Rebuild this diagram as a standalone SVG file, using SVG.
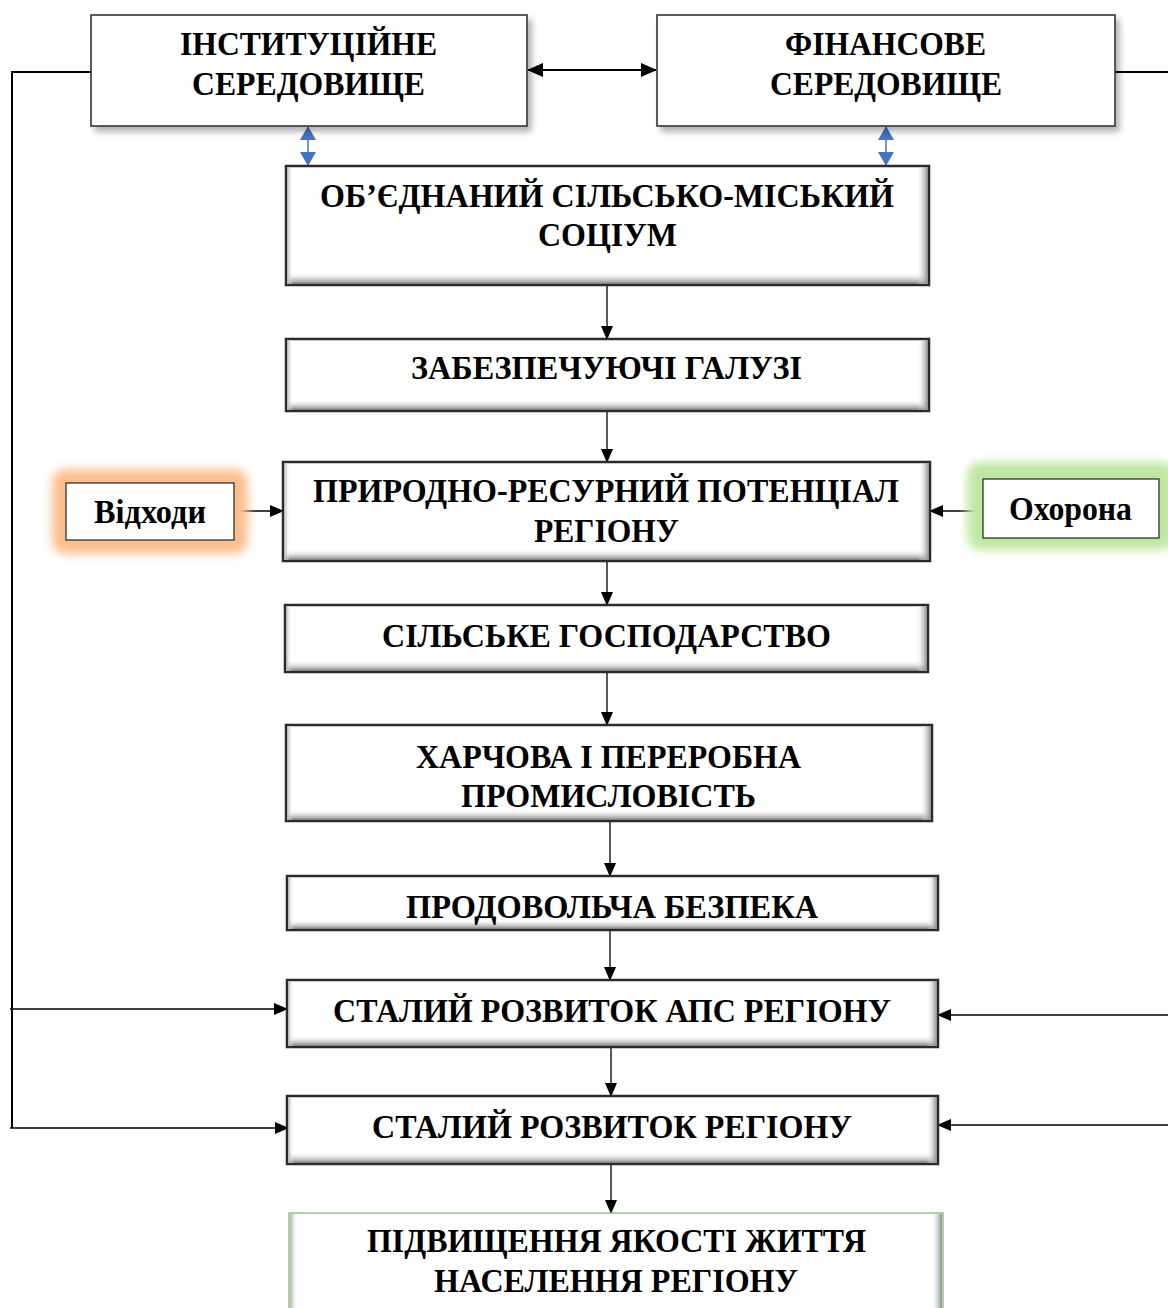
<svg xmlns="http://www.w3.org/2000/svg" width="1168" height="1308" viewBox="0 0 1168 1308">
<style>
  .t { font-family: "Liberation Serif", "Times New Roman", serif; font-weight: bold; font-size: 34px; fill: #000; text-anchor: middle; }
  .box { fill: #fff; stroke: #2b2b2b; stroke-width: 2.5; }
  .topbox { fill: #fff; stroke: #333; stroke-width: 1.6; }
  .small { fill: #fff; stroke: #222; stroke-width: 1.2; }
  .bb { fill: url(#gB); }
  .br { fill: url(#gR); }
  .bl { fill: url(#gL); }
  .c { fill: none; stroke: #000; stroke-width: 1.3; }
  .bus { fill: none; stroke: #000; stroke-width: 2; }
  .blue { fill: none; stroke: #4472c4; stroke-width: 1.5; }
</style>
<defs>
  <linearGradient id="gB" x1="0" y1="0" x2="0" y2="1"><stop offset="0" stop-color="#fff" stop-opacity="0"/><stop offset="1" stop-color="#7a7a7a"/></linearGradient>
  <linearGradient id="gR" x1="0" y1="0" x2="1" y2="0"><stop offset="0" stop-color="#fff" stop-opacity="0"/><stop offset="1" stop-color="#8a8a8a"/></linearGradient>
  <linearGradient id="gL" x1="1" y1="0" x2="0" y2="0"><stop offset="0" stop-color="#fff" stop-opacity="0"/><stop offset="1" stop-color="#b0b0b0"/></linearGradient>
  <filter id="sh" x="-10%" y="-20%" width="130%" height="150%">
    <feDropShadow dx="4" dy="5" stdDeviation="3" flood-color="#000" flood-opacity="0.3"/>
  </filter>
  <filter id="glow" x="-30%" y="-60%" width="160%" height="220%">
    <feGaussianBlur stdDeviation="5"/>
  </filter>
  <marker id="ah" markerUnits="userSpaceOnUse" markerWidth="14" markerHeight="12" refX="13" refY="6" orient="auto-start-reverse">
    <path d="M0,0 L14,6 L0,12 z" fill="#000"/>
  </marker>
  <marker id="ahb" markerUnits="userSpaceOnUse" markerWidth="16" markerHeight="14" refX="15" refY="7" orient="auto-start-reverse">
    <path d="M0,0 L16,7 L0,14 z" fill="#000"/>
  </marker>
  <marker id="ahblue" markerUnits="userSpaceOnUse" markerWidth="14" markerHeight="16" refX="13" refY="8" orient="auto-start-reverse">
    <path d="M0,0 L14,8 L0,16 z" fill="#4472c4"/>
  </marker>
</defs>
<rect width="1168" height="1308" fill="#fff"/>

<g id="connectors">
  <polyline class="bus" points="91,72 12,72 12,1128"/>
  <line class="c" x1="10" y1="1009" x2="287" y2="1009" marker-end="url(#ah)"/>
  <line class="c" x1="10" y1="1128" x2="288" y2="1128" marker-end="url(#ah)"/>
  <line class="bus" x1="1115" y1="72" x2="1168" y2="72"/>
  <line class="c" x1="1168" y1="1015" x2="938" y2="1015" marker-end="url(#ah)"/>
  <line class="c" x1="1168" y1="1125" x2="938" y2="1125" marker-end="url(#ah)"/>
  <line class="bus" x1="528" y1="70" x2="656" y2="70" marker-start="url(#ahb)" marker-end="url(#ahb)"/>
  <line class="blue" x1="308" y1="127" x2="308" y2="165" marker-start="url(#ahblue)" marker-end="url(#ahblue)"/>
  <line class="blue" x1="886" y1="127" x2="886" y2="165" marker-start="url(#ahblue)" marker-end="url(#ahblue)"/>
  <line class="c" x1="607" y1="285" x2="607" y2="339" marker-end="url(#ah)"/>
  <line class="c" x1="607" y1="411" x2="607" y2="462" marker-end="url(#ah)"/>
  <line class="c" x1="234" y1="511" x2="283" y2="511" marker-end="url(#ah)"/>
  <line class="c" x1="983" y1="511" x2="930" y2="511" marker-end="url(#ah)"/>
  <line class="c" x1="607" y1="561" x2="607" y2="605" marker-end="url(#ah)"/>
  <line class="c" x1="607" y1="672" x2="607" y2="725" marker-end="url(#ah)"/>
  <line class="c" x1="610" y1="815" x2="610" y2="876" marker-end="url(#ah)"/>
  <line class="c" x1="610" y1="930" x2="610" y2="980" marker-end="url(#ah)"/>
  <line class="c" x1="611" y1="1041" x2="611" y2="1096" marker-end="url(#ah)"/>
  <line class="c" x1="611" y1="1164" x2="611" y2="1213" marker-end="url(#ah)"/>
</g>

<g id="n-institutional">
  <rect class="topbox" x="91" y="15" width="436" height="111" filter="url(#sh)"/>
  <text class="t" x="308.5" y="55" textLength="257" lengthAdjust="spacingAndGlyphs">ІНСТИТУЦІЙНЕ</text>
  <text class="t" x="308.5" y="95" textLength="233" lengthAdjust="spacingAndGlyphs">СЕРЕДОВИЩЕ</text>
</g>
<g id="n-financial">
  <rect class="topbox" x="657" y="15" width="458" height="111" filter="url(#sh)"/>
  <text class="t" x="885.5" y="55" textLength="201" lengthAdjust="spacingAndGlyphs">ФІНАНСОВЕ</text>
  <text class="t" x="886" y="95" textLength="232" lengthAdjust="spacingAndGlyphs">СЕРЕДОВИЩЕ</text>
</g>

<g id="n-socium">
  <rect class="box" x="286" y="166" width="643" height="119"/>
  <rect class="bb" x="287" y="272" width="641" height="12"/>
  <rect class="br" x="916" y="167" width="12" height="117"/>
  <rect class="bl" x="287" y="167" width="6" height="117"/>
  <text class="t" x="607" y="207" textLength="574" lengthAdjust="spacingAndGlyphs">ОБ’ЄДНАНИЙ СІЛЬСЬКО-МІСЬКИЙ</text>
  <text class="t" x="607.5" y="246" textLength="139" lengthAdjust="spacingAndGlyphs">СОЦІУМ</text>
</g>

<g id="n-support">
  <rect class="box" x="286" y="339" width="643" height="72"/>
  <rect class="bb" x="287" y="399" width="641" height="11"/>
  <rect class="br" x="917" y="340" width="11" height="70"/>
  <rect class="bl" x="287" y="340" width="6" height="70"/>
  <text class="t" x="606.5" y="379" textLength="391" lengthAdjust="spacingAndGlyphs">ЗАБЕЗПЕЧУЮЧІ ГАЛУЗІ</text>
</g>

<g id="n-waste">
  <rect x="52" y="469" width="196" height="85" rx="14" fill="#fbbf8f" filter="url(#glow)"/>
  <rect class="small" x="66" y="483" width="168" height="57"/>
  <text class="t" x="150" y="523" textLength="112" lengthAdjust="spacingAndGlyphs">Відходи</text>
</g>

<g id="n-protection">
  <rect x="967" y="462" width="208" height="88" rx="14" fill="#c0e7a2" filter="url(#glow)"/>
  <rect class="small" x="983" y="479" width="176" height="59"/>
  <text class="t" x="1070.5" y="520" textLength="123" lengthAdjust="spacingAndGlyphs">Охорона</text>
</g>

<g id="n-natural">
  <rect class="box" x="283" y="462" width="647" height="99"/>
  <rect class="bb" x="284" y="549" width="645" height="11"/>
  <rect class="br" x="918" y="463" width="11" height="97"/>
  <rect class="bl" x="284" y="463" width="6" height="97"/>
  <text class="t" x="606" y="502" textLength="586" lengthAdjust="spacingAndGlyphs">ПРИРОДНО-РЕСУРНИЙ ПОТЕНЦІАЛ</text>
  <text class="t" x="606.5" y="542" textLength="145" lengthAdjust="spacingAndGlyphs">РЕГІОНУ</text>
</g>

<g id="n-agriculture">
  <rect class="box" x="285" y="605" width="643" height="67"/>
  <rect class="bb" x="286" y="660" width="641" height="11"/>
  <rect class="br" x="916" y="606" width="11" height="65"/>
  <rect class="bl" x="286" y="606" width="6" height="65"/>
  <text class="t" x="606.5" y="647" textLength="449" lengthAdjust="spacingAndGlyphs">СІЛЬСЬКЕ ГОСПОДАРСТВО</text>
</g>

<g id="n-food-industry">
  <rect class="box" x="286" y="725" width="646" height="96"/>
  <rect class="bb" x="287" y="809" width="644" height="11"/>
  <rect class="br" x="920" y="726" width="11" height="94"/>
  <rect class="bl" x="287" y="726" width="6" height="94"/>
  <text class="t" x="608.5" y="768" textLength="385" lengthAdjust="spacingAndGlyphs">ХАРЧОВА І ПЕРЕРОБНА</text>
  <text class="t" x="608.5" y="807" textLength="295" lengthAdjust="spacingAndGlyphs">ПРОМИСЛОВІСТЬ</text>
</g>

<g id="n-food-security">
  <rect class="box" x="287" y="876" width="651" height="54"/>
  <rect class="bb" x="288" y="919" width="649" height="10"/>
  <rect class="br" x="927" y="877" width="10" height="52"/>
  <rect class="bl" x="288" y="877" width="6" height="52"/>
  <text class="t" x="612" y="918" textLength="412" lengthAdjust="spacingAndGlyphs">ПРОДОВОЛЬЧА БЕЗПЕКА</text>
</g>

<g id="n-sustainable-aps">
  <rect class="box" x="287" y="980" width="651" height="67"/>
  <rect class="bb" x="288" y="1035" width="649" height="11"/>
  <rect class="br" x="926" y="981" width="11" height="65"/>
  <rect class="bl" x="288" y="981" width="6" height="65"/>
  <text class="t" x="612" y="1022" textLength="558" lengthAdjust="spacingAndGlyphs">СТАЛИЙ РОЗВИТОК АПС РЕГІОНУ</text>
</g>

<g id="n-sustainable-region">
  <rect class="box" x="287" y="1096" width="651" height="68"/>
  <rect class="bb" x="288" y="1152" width="649" height="11"/>
  <rect class="br" x="926" y="1097" width="11" height="66"/>
  <rect class="bl" x="288" y="1097" width="6" height="66"/>
  <text class="t" x="612" y="1138" textLength="480" lengthAdjust="spacingAndGlyphs">СТАЛИЙ РОЗВИТОК РЕГІОНУ</text>
</g>

<g id="n-quality">
  <rect x="289" y="1213" width="654" height="110" fill="#fff" stroke="#9bc47a" stroke-width="1.5"/>
  <rect class="br" x="931" y="1214" width="11" height="100"/>
  <rect class="bl" x="290" y="1214" width="8" height="100"/>
  <text class="t" x="616.5" y="1252" textLength="499" lengthAdjust="spacingAndGlyphs">ПІДВИЩЕННЯ ЯКОСТІ ЖИТТЯ</text>
  <text class="t" x="616" y="1292" textLength="364" lengthAdjust="spacingAndGlyphs">НАСЕЛЕННЯ РЕГІОНУ</text>
</g>
</svg>
